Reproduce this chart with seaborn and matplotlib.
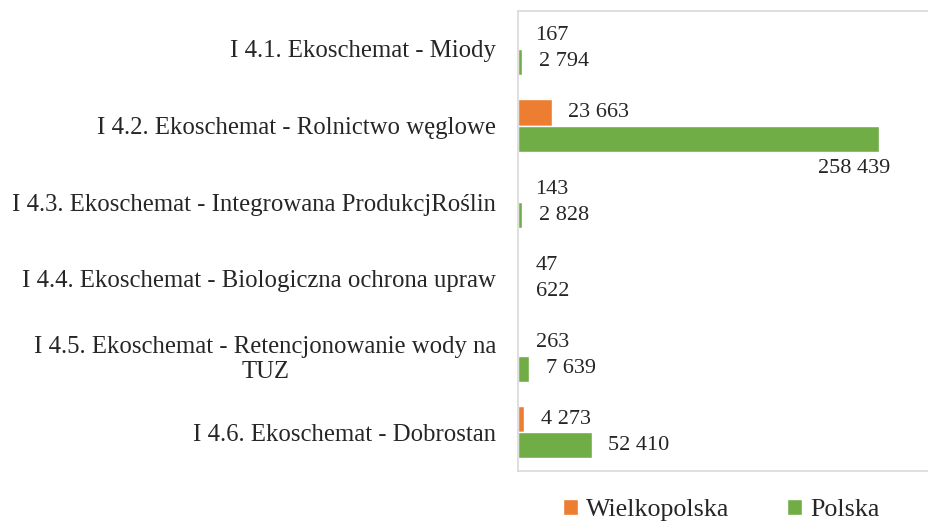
"""
Ekoschematy - Wielkopolska vs Polska
"""

import pandas as pd
import matplotlib.pyplot as plt
import seaborn as sns

# %% data

categories = [
    'I 4.1. Ekoschemat - Miody',
    'I 4.2. Ekoschemat - Rolnictwo węglowe',
    'I 4.3. Ekoschemat - Integrowana ProdukcjRoślin',
    'I 4.4. Ekoschemat - Biologiczna ochrona upraw',
    'I 4.5. Ekoschemat - Retencjonowanie wody na\nTUZ',
    'I 4.6. Ekoschemat - Dobrostan',
]
wielkopolska = [167, 23663, 143, 47, 263, 4273]
polska = [2794, 258439, 2828, 622, 7639, 52410]
series = ['Wielkopolska', 'Polska']
colors = ['#ED7D31', '#70AD47']

df = pd.DataFrame({'kategoria': categories * 2,
                   'region': [series[0]] * 6 + [series[1]] * 6,
                   'wartosc': wielkopolska + polska})

# %% plot

sns.set_style('white')
plt.rcParams['font.family'] = ['Liberation Serif', 'DejaVu Serif']

W, H = 929, 523
fig = plt.figure(figsize=(W / 100, H / 100), dpi=100)
left, right, top, bottom = 518.5, 940, 10.5, 470.5
ax = fig.add_axes([left / W, 1 - bottom / H, (right - left) / W, (bottom - top) / H])

sns.barplot(data=df, y='kategoria', x='wartosc', hue='region',
            hue_order=series, palette=colors, orient='h',
            width=0.68, saturation=1, ax=ax, legend=True)

px_per_unit = 360.5 / 258439
ax.set_xlim(0, (right - left) / px_per_unit)
ax.set_ylim(len(categories) - 0.5, -0.5)

# value labels
fmt = lambda v: f'{v:,}'.replace(',', ' ')
for cont in ax.containers:
    for bar, v in zip(cont, cont.datavalues):
        yc = bar.get_y() + bar.get_height() / 2
        if v > 200000:
            ax.annotate(fmt(int(v)), (v, yc), xytext=(8, -15), textcoords='offset points',
                        ha='right', va='top', fontsize=16, color='#262626')
        else:
            ax.annotate(fmt(int(v)), (v, yc), xytext=(12, 0), textcoords='offset points',
                        ha='left', va='center', fontsize=16, color='#262626')

ax.set_xlabel('')
ax.set_ylabel('')
ax.set_xticks([])
ax.tick_params(axis='y', length=0, pad=16, labelsize=17.8, labelcolor='#262626')
for lbl in ax.get_yticklabels():
    lbl.set_multialignment('center')
for s in ax.spines.values():
    s.set_color('#D9D9D9')
    s.set_linewidth(1.2)

h, l = ax.get_legend_handles_labels()
ax.get_legend().remove()
fig.legend(h, l, loc='center', bbox_to_anchor=(721 / W, 1 - 510 / H), ncol=2,
           frameon=False, fontsize=18.7, handlelength=0.6, handleheight=0.6,
           handletextpad=0.3, columnspacing=2.2, labelcolor='#262626')

fig.savefig('out.png', dpi=100)
